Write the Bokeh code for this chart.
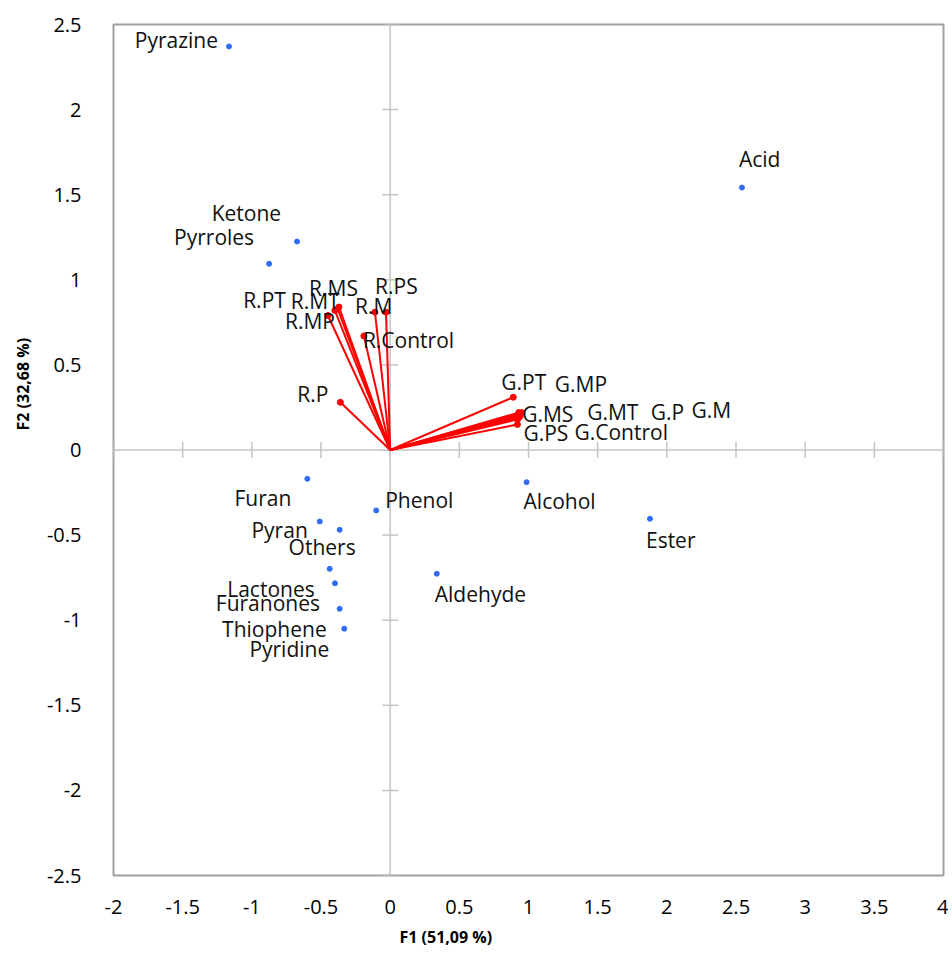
from bokeh.plotting import figure
from bokeh.models import Range1d, FixedTicker, Span, ColumnDataSource, Title
from bokeh.core.properties import value
from bokeh.embed import file_html
from bokeh.resources import INLINE
import math

# ---------------- data ----------------
obs_names = ["Pyrazine", "Acid", "Ketone", "Pyrroles", "Furan", "Phenol", "Pyran",
             "Others", "Lactones", "Furanones", "Thiophene", "Pyridine",
             "Alcohol", "Ester", "Aldehyde"]
obs_f1 = [-1.165, 2.543, -0.673, -0.875, -0.599, -0.101, -0.509,
          -0.365, -0.437, -0.399, -0.365, -0.332,
          0.986, 1.878, 0.337]
obs_f2 = [2.371, 1.542, 1.225, 1.094, -0.169, -0.355, -0.420,
          -0.469, -0.698, -0.783, -0.933, -1.050,
          -0.189, -0.404, -0.727]

var_names = ["R.PT", "R.MT", "R.MS", "R.MP", "R.PS", "R.M", "R.Control", "R.P",
             "G.PT", "G.MP", "G.MS", "G.MT", "G.P", "G.M", "G.Control", "G.PS"]
var_f1 = [-0.40, -0.38, -0.37, -0.45, -0.03, -0.11, -0.19, -0.36,
          0.89, 0.93, 0.94, 0.94, 0.93, 0.95, 0.92, 0.92]
var_f2 = [0.82, 0.83, 0.84, 0.79, 0.81, 0.81, 0.67, 0.28,
          0.31, 0.22, 0.21, 0.20, 0.19, 0.22, 0.18, 0.15]

x_ticks = [-2, -1.5, -1, -0.5, 0, 0.5, 1, 1.5, 2, 2.5, 3, 3.5, 4]
x_tick_labels = ["-2", "-1.5", "-1", "-0.5", "0", "0.5", "1", "1.5", "2", "2.5", "3", "3.5", "4"]
y_ticks = [-2.5, -2, -1.5, -1, -0.5, 0, 0.5, 1, 1.5, 2, 2.5]
y_tick_labels = ["-2.5", "-2", "-1.5", "-1", "-0.5", "0", "0.5", "1", "1.5", "2", "2.5"]

x_title = "F1 (51,09 %)"
y_title = "F2 (32,68 %)"

# ---------------- label placement (screen px) ----------------
obs_label_align = ["right", "left", "right", "right", "right", "left", "right",
                   "right", "right", "right", "right", "right",
                   "left", "left", "left"]
obs_label_dx = [-11, -3, -16, -15, -16, 9, -12, 16, -15, -15, -13, -15, -3, -4, -2]
obs_label_dy = [-6, -29, -29, -27, 19, -10, 9, 17, 20, 20, 20, 20, 19, 21, 20]

var_label_align = ["right", "right", "right", "right", "left", "left", "left", "right",
                   "left", "left", "left", "left", "left", "left", "left", "left"]
var_label_dx = [-49, 2, 19, 7, -11, -20, -1, -12,
                -12, 36, 2, 67, 132, 170, 57, 6]
var_label_dy = [-10, -8, -19, 5, -26, -6, 4, -8,
                -15, -29, 0, -4, -6, -3, 13, 9]

FONT = "Open Sans"

p = figure(width=948, height=956, output_backend="svg", toolbar_location=None,
           x_range=Range1d(-2, 4), y_range=Range1d(-2.5, 2.5),
           min_border_left=111, min_border_top=24, min_border_right=5,
           min_border_bottom=81)
p.background_fill_color = "white"
p.border_fill_color = "white"
p.outline_line_color = "#A0A0A0"
p.outline_line_width = 2
p.xgrid.visible = False
p.ygrid.visible = False

for ax, ticks, labels in ((p.xaxis[0], x_ticks, x_tick_labels),
                          (p.yaxis[0], y_ticks, y_tick_labels)):
    ax.ticker = FixedTicker(ticks=ticks)
    ax.major_label_overrides = {t: l for t, l in zip(ticks, labels)}
    ax.axis_line_color = None
    ax.major_tick_line_color = None
    ax.minor_tick_line_color = None
    ax.major_label_text_font = FONT
    ax.major_label_text_font_size = "20px"
    ax.major_label_text_color = "black"

p.xaxis.major_label_standoff = 18
p.yaxis.major_label_standoff = 26

# axis titles (offset along the axis as in the reference)
p.add_layout(Title(text=x_title, align="left", offset=286, standoff=14,
                   text_font=FONT, text_font_style="bold", text_font_size="16px",
                   text_color="black"), "below")
p.add_layout(Title(text=y_title, align="left", offset=445, standoff=19,
                   text_font=FONT, text_font_style="bold", text_font_size="16px",
                   text_color="black"), "left")

# centre axes
p.add_layout(Span(location=0, dimension="height", line_color="#C4C4C4", line_width=1.5, level="underlay"))
p.add_layout(Span(location=0, dimension="width", line_color="#C4C4C4", line_width=1.5, level="underlay"))
p.scatter(x=x_ticks, y=[0] * len(x_ticks), marker="dash", size=16, angle=math.pi / 2,
          line_color="#C4C4C4", line_width=1.5, level="underlay")
p.scatter(x=[0] * len(y_ticks), y=y_ticks, marker="dash", size=16, angle=0,
          line_color="#C4C4C4", line_width=1.5, level="underlay")

# vectors
vsrc = ColumnDataSource(dict(x1=var_f1, y1=var_f2, x0=[0] * len(var_f1), y0=[0] * len(var_f1),
                             name=var_names, align=var_label_align,
                             dx=var_label_dx, dy=var_label_dy))
p.segment(x0="x0", y0="y0", x1="x1", y1="y1", source=vsrc, line_color="#FF0000", line_width=2)
p.scatter(x="x1", y="y1", source=vsrc, size=6, fill_color="#FF0000", line_color="#FF0000")
p.text(x="x1", y="y1", text="name", source=vsrc, x_offset="dx", y_offset="dy",
       text_align="align", text_baseline="middle", text_font=value(FONT),
       text_font_size="21px", text_color="#111111")

# observations
osrc = ColumnDataSource(dict(x=obs_f1, y=obs_f2, name=obs_names, align=obs_label_align,
                             dx=obs_label_dx, dy=obs_label_dy))
p.scatter(x="x", y="y", source=osrc, size=5, fill_color="#2F6BF5", line_color="#2F6BF5")
p.text(x="x", y="y", text="name", source=osrc, x_offset="dx", y_offset="dy",
       text_align="align", text_baseline="middle", text_font=value(FONT),
       text_font_size="21px", text_color="#111111")

open("out.html", "w").write(file_html(p, INLINE))
